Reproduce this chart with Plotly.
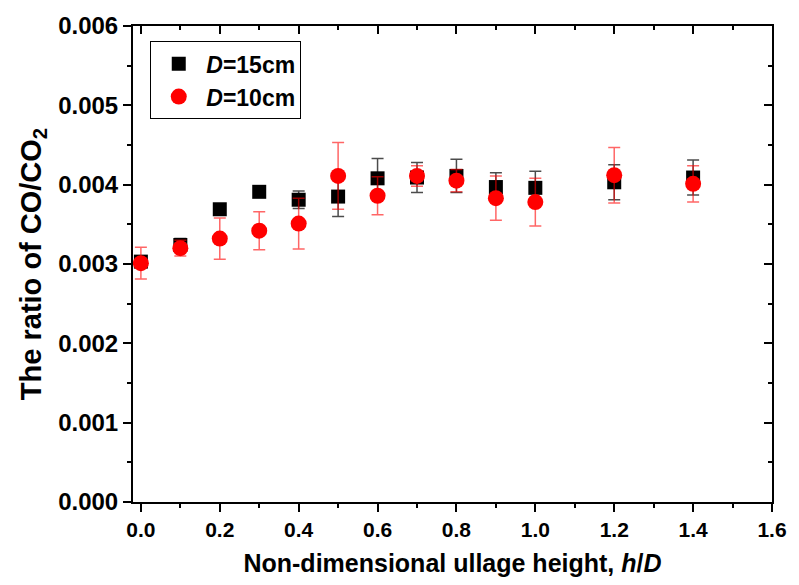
import plotly.graph_objects as go

x15 = [0.0, 0.1, 0.2, 0.3, 0.4, 0.5, 0.6, 0.7, 0.8, 0.9, 1.0, 1.2, 1.4]
y15 = [0.00303, 0.00324, 0.00369, 0.00391, 0.00381, 0.00385, 0.00408, 0.00409, 0.00411, 0.00397, 0.00396, 0.00403, 0.00409]
e15 = [0.00005, 0.00008, 0.00003, 0.00004, 0.00011, 0.00025, 0.00025, 0.00019, 0.00021, 0.00018, 0.00021, 0.00022, 0.00022]

x10 = [0.0, 0.1, 0.2, 0.3, 0.4, 0.5, 0.6, 0.7, 0.8, 0.9, 1.0, 1.2, 1.4]
y10 = [0.00301, 0.00320, 0.00332, 0.00342, 0.00351, 0.00411, 0.00386, 0.00411, 0.00405, 0.00383, 0.00378, 0.00412, 0.00401]
e10 = [0.00020, 0.00010, 0.00026, 0.00024, 0.00032, 0.00042, 0.00024, 0.00013, 0.00014, 0.00028, 0.00030, 0.00035, 0.00023]

xticks = [0.0, 0.2, 0.4, 0.6, 0.8, 1.0, 1.2, 1.4, 1.6]
yticks = [0.000, 0.001, 0.002, 0.003, 0.004, 0.005, 0.006]

FONT = "Arial, Liberation Sans, sans-serif"
xr = [-0.02, 1.6]
yr = [0, 0.006]

fig = go.Figure()
fig.add_trace(go.Scatter(
    x=x15, y=y15, mode="markers", name="<b><i>D</i>=15cm</b>",
    marker=dict(symbol="square", size=14, color="black"),
    error_y=dict(type="data", array=e15, visible=True, color="rgba(0,0,0,0.7)", thickness=1.5, width=6),
))
fig.add_trace(go.Scatter(
    x=x10, y=y10, mode="markers", name="<b><i>D</i>=10cm</b>",
    marker=dict(symbol="circle", size=16, color="red"),
    error_y=dict(type="data", array=e10, visible=True, color="rgba(255,0,0,0.6)", thickness=1.5, width=6),
))
fig.add_trace(go.Scatter(x=[xr[0]], y=[yr[0]], xaxis="x2", yaxis="y2", mode="markers",
                         marker=dict(opacity=0), showlegend=False, hoverinfo="skip"))

common = dict(showline=True, linecolor="black", linewidth=2, showgrid=False, zeroline=False,
              tickcolor="black", tickwidth=2, ticklen=8)
fig.update_layout(
    width=799, height=585,
    margin=dict(l=133, r=19, t=22, b=82),
    paper_bgcolor="white", plot_bgcolor="white",
    font=dict(family=FONT, color="black"),
    xaxis=dict(range=xr, tickvals=xticks, ticktext=[f"<b>{v:.1f}</b>" for v in xticks], ticks="outside",
               tickfont=dict(size=21), minor=dict(dtick=0.1, ticks="outside", ticklen=4, tickwidth=2, tickcolor="black"),
               title=dict(text="<b>Non-dimensional ullage height, <i>h</i>/<i>D</i></b>", font=dict(size=25), standoff=14),
               **common),
    yaxis=dict(range=yr, tickvals=yticks, ticktext=[f"<b>{v:.3f}</b>" for v in yticks], ticks="outside",
               tickfont=dict(size=24), minor=dict(dtick=0.0005, ticks="outside", ticklen=4, tickwidth=2, tickcolor="black"),
               title=dict(text="<b>The ratio of CO/CO<sub>2</sub></b>", font=dict(size=29), standoff=8),
               **common),
    xaxis2=dict(range=xr, overlaying="x", side="top", tickvals=xticks, showticklabels=False, ticks="inside",
                minor=dict(dtick=0.1, ticks="inside", ticklen=4, tickwidth=2, tickcolor="black"), **common),
    yaxis2=dict(range=yr, overlaying="y", side="right", tickvals=yticks, showticklabels=False, ticks="inside",
                minor=dict(dtick=0.0005, ticks="inside", ticklen=4, tickwidth=2, tickcolor="black"), **common),
    legend=dict(x=0.027, y=0.968, xanchor="left", yanchor="top", bordercolor="black", borderwidth=1,
                bgcolor="white", font=dict(size=23), itemwidth=45, tracegroupgap=0),
    showlegend=True,
)

fig.write_html("out.html")
